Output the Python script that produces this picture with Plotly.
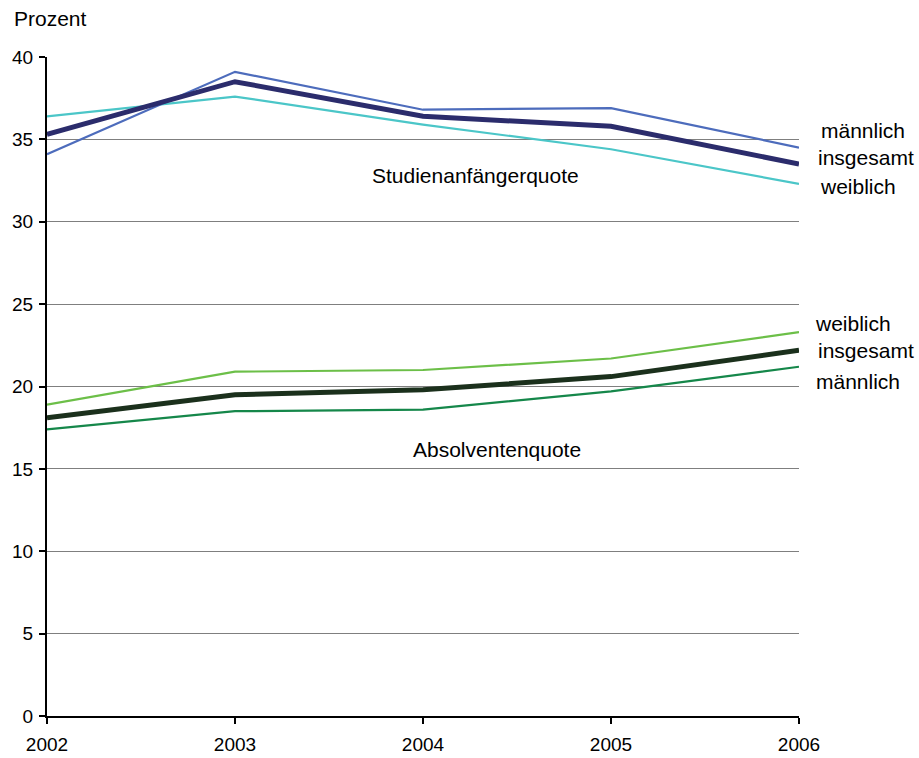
import plotly.graph_objects as go

years = [2002, 2003, 2004, 2005, 2006]

# Studienanfängerquote
anf_maennlich = [34.1, 39.1, 36.8, 36.9, 34.5]
anf_insgesamt = [35.3, 38.5, 36.4, 35.8, 33.5]
anf_weiblich = [36.4, 37.6, 35.9, 34.4, 32.3]

# Absolventenquote
abs_weiblich = [18.9, 20.9, 21.0, 21.7, 23.3]
abs_insgesamt = [18.1, 19.5, 19.8, 20.6, 22.2]
abs_maennlich = [17.4, 18.5, 18.6, 19.7, 21.2]

y_ticks = [0, 5, 10, 15, 20, 25, 30, 35, 40]

FONT = "Liberation Sans, Arial, sans-serif"

fig = go.Figure()

series = [
    (anf_weiblich, "#4BC6C8", 2.2),
    (anf_maennlich, "#4D6CBC", 2.2),
    (anf_insgesamt, "#2B2C6C", 5),
    (abs_maennlich, "#15874A", 2.2),
    (abs_weiblich, "#6CBF48", 2.2),
    (abs_insgesamt, "#1B301C", 5),
]
for vals, color, width in series:
    fig.add_trace(go.Scatter(
        x=years, y=vals, mode="lines",
        line=dict(color=color, width=width),
        showlegend=False, hoverinfo="skip", cliponaxis=False,
    ))

fig.update_layout(
    width=919, height=758,
    margin=dict(l=47, r=120, t=57, b=42),
    paper_bgcolor="white", plot_bgcolor="white",
    font=dict(family=FONT, size=19, color="black"),
    xaxis=dict(
        range=[2002, 2006], tickvals=years, ticktext=[str(y) for y in years],
        showgrid=False, zeroline=False, automargin=False,
        showline=True, linecolor="black", linewidth=2,
        ticks="outside", ticklen=6, tickwidth=2, tickcolor="black",
        tickfont=dict(family=FONT, size=19), ticklabelstandoff=4,
    ),
    yaxis=dict(
        range=[0, 40], tickvals=y_ticks,
        showgrid=True, gridcolor="#7f7f7f", gridwidth=1,
        zeroline=False, automargin=False,
        showline=True, linecolor="black", linewidth=2,
        ticks="outside", ticklen=6, tickwidth=2, tickcolor="black",
        tickfont=dict(family=FONT, size=19), ticklabelstandoff=2,
    ),
)

# (text, x in paper units, y in paper units, anchor)
notes = [
    ("Prozent", -0.047, 1.059, "left"),
    ("Studienanfängerquote", 0.570, 0.820, "center"),
    ("Absolventenquote", 0.599, 0.405, "center"),
    ("männlich", 1.027, 0.888, "left"),
    ("insgesamt", 1.023, 0.847, "left"),
    ("weiblich", 1.025, 0.803, "left"),
    ("weiblich", 1.018, 0.595, "left"),
    ("insgesamt", 1.022, 0.554, "left"),
    ("männlich", 1.020, 0.508, "left"),
]
for text, x, y, anchor in notes:
    fig.add_annotation(
        text=text, x=x, y=y, xref="paper", yref="paper",
        xanchor=anchor, yanchor="middle", showarrow=False,
        font=dict(family=FONT, size=21, color="black"),
    )

fig.write_html("out.html")
